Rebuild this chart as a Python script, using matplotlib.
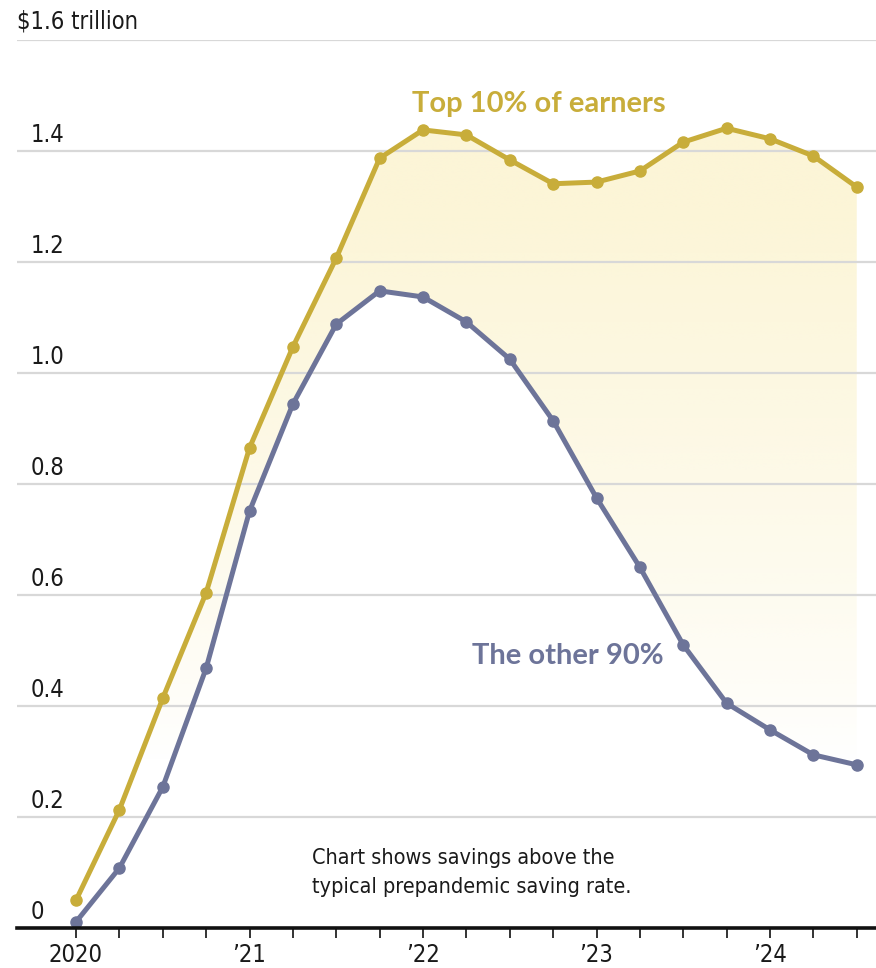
import matplotlib
matplotlib.use("Agg")
from matplotlib import pyplot as plt
from matplotlib import font_manager
import numpy as np

# quarterly, 2020 Q1 .. 2024 Q3
quarters = [2020 + i * 0.25 for i in range(19)]
top10 = [0.05, 0.213, 0.414, 0.604, 0.865, 1.047, 1.207, 1.387, 1.438, 1.429,
         1.384, 1.341, 1.344, 1.364, 1.416, 1.441, 1.422, 1.391, 1.335]
other90 = [0.011, 0.108, 0.254, 0.468, 0.751, 0.944, 1.088, 1.148, 1.137, 1.092,
           1.025, 0.914, 0.775, 0.650, 0.510, 0.405, 0.357, 0.312, 0.294]
year_ticks = [2020, 2021, 2022, 2023, 2024]
year_labels = ["2020", "\u201921", "\u201922", "\u201923", "\u201924"]
y_ticks = [0, 0.2, 0.4, 0.6, 0.8, 1.0, 1.2, 1.4]
y_labels = ["0", "0.2", "0.4", "0.6", "0.8", "1.0", "1.2", "1.4"]

gold = "#c8ad3a"
slate = "#6d7499"

# pick a condensed face if one is installed
cond = [f for f in font_manager.fontManager.ttflist
        if ("Narrow" in f.name or "Condensed" in f.name or f.stretch in ("condensed", "semi-condensed", 500, 300))
        and f.weight in ("normal", "regular", 400)]
if cond:
    narrow = dict(family=cond[0].name, stretch=cond[0].stretch)
else:
    narrow = dict(family="DejaVu Sans", stretch="condensed")
names = {f.name for f in font_manager.fontManager.ttflist}
boldfont = "Lato" if "Lato" in names else "DejaVu Sans"

W, H = 876, 968
fig = plt.figure(figsize=(W / 100, H / 100), dpi=100)
ax = fig.add_axes([17 / W, 1 - 928 / H, (W - 17) / W, 888 / H])
ax.set_xlim(2020 - 59 / 173.5, 2020 + 800 / 173.5)
ax.set_ylim(0, 1.6)

# gridlines
for v in y_ticks[1:] + [1.6]:
    ax.axhline(v, color="#d8d8d8", lw=1.6, zorder=1)

# gradient fill between the two lines
poly = ax.fill_between(quarters, other90, top10, color="none", lw=0)
grad = np.zeros((200, 2, 4))
col = np.array([248, 232, 160]) / 255
yy = np.linspace(1.6, 0, 200)
alpha = np.clip((yy - 0.3) / (1.3 - 0.3), 0, 1) ** 0.8 * 0.42
grad[:, :, :3] = col
grad[:, :, 3] = alpha[:, None]
im = ax.imshow(grad, extent=[quarters[0], quarters[-1], 0, 1.6], aspect="auto",
               zorder=0.5, interpolation="bilinear")
path = poly.get_paths()[0]
im.set_clip_path(path, transform=ax.transData)

ax.plot(quarters, top10, color=gold, lw=3.6, marker="o", ms=8, zorder=3,
        solid_capstyle="round")
ax.plot(quarters, other90, color=slate, lw=3.6, marker="o", ms=8, zorder=3,
        solid_capstyle="round")

# y labels sitting on the gridlines
for v, lab in zip(y_ticks, y_labels):
    ax.text(14 / (W - 17), v + 0.008, lab, transform=ax.get_yaxis_transform(),
            fontsize=17, color="#1a1a1a", va="bottom", ha="left", **narrow)
ax.text(0, 1.612, "$1.6 trillion", transform=ax.get_yaxis_transform(),
        fontsize=17, color="#1a1a1a", va="bottom", ha="left", **narrow)

ax.text(2021.935, 1.485, "Top 10% of earners", color=gold, fontsize=21,
        fontweight="bold", family=boldfont, ha="left", va="center")
ax.text(2022.28, 0.49, "The other 90%", color=slate, fontsize=21,
        fontweight="bold", family=boldfont, ha="left", va="center")
ax.text(2021.36, 0.10, "Chart shows savings above the\ntypical prepandemic saving rate.",
        fontsize=15.5, color="#1a1a1a", ha="left", va="center",
        linespacing=1.55, **narrow)

for s in ["top", "left", "right"]:
    ax.spines[s].set_visible(False)
ax.spines["bottom"].set_linewidth(2.6)
ax.spines["bottom"].set_color("#111111")
ax.spines["bottom"].set_zorder(4)
ax.set_yticks([])
ax.set_xticks(year_ticks)
ax.set_xticklabels(year_labels, fontsize=17, color="#1a1a1a", **narrow)
ax.set_xticks(quarters, minor=True)
ax.tick_params(axis="x", which="both", length=7, width=1.4, color="#333333",
               direction="out", pad=4)

fig.savefig("out.png", dpi=100, facecolor="white")
